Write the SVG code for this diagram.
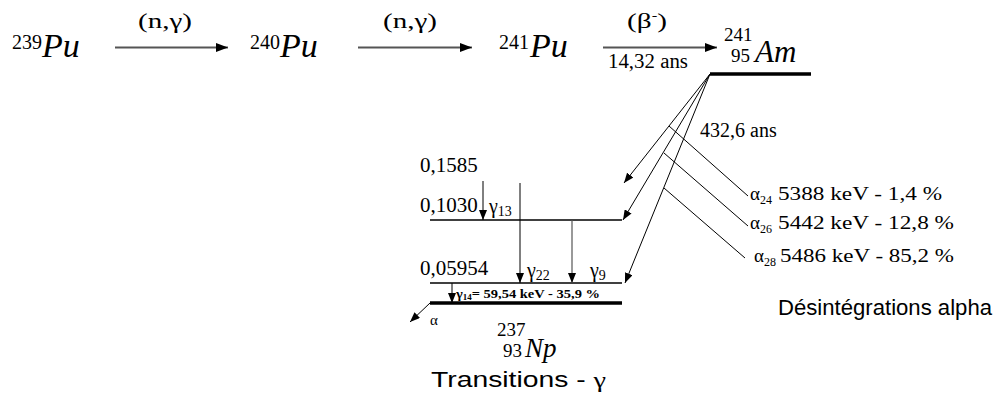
<svg xmlns="http://www.w3.org/2000/svg" width="995" height="396" viewBox="0 0 995 396">
<style>
.s{font-family:"Liberation Serif","Times New Roman",serif;fill:#000}
.i{font-family:"Liberation Serif","Times New Roman",serif;font-style:italic;fill:#000}
.a{font-family:"Liberation Sans",Arial,sans-serif;fill:#000}
.big{stroke:#555;stroke-width:2;fill:none}
.thin{stroke:#000;stroke-width:1;fill:none}
.lvl{stroke:#000;stroke-width:1.3;fill:none}
.gnd{stroke:#000;stroke-width:3.5;fill:none}
</style>
<defs>
<marker id="ah" viewBox="0 0 12 9" refX="12" refY="4.5" markerWidth="12" markerHeight="9" markerUnits="userSpaceOnUse" orient="auto"><path d="M0,0 L12,4.5 L0,9 z" fill="#000"/></marker>
<marker id="as" viewBox="0 0 10 8" refX="10" refY="4" markerWidth="10" markerHeight="8" markerUnits="userSpaceOnUse" orient="auto"><path d="M0,0 L10,4 L0,8 z" fill="#000"/></marker>
</defs>
<rect width="995" height="396" fill="#fff"/>

<g id="pu239"><text class="s" x="12" y="49" font-size="20">239</text><text class="i" x="42" y="57" font-size="34">Pu</text></g>
<g id="pu240"><text class="s" x="250" y="49" font-size="20">240</text><text class="i" x="280" y="57" font-size="34">Pu</text></g>
<g id="pu241"><text class="s" x="499" y="49" font-size="20">241</text><text class="i" x="530" y="57" font-size="34">Pu</text></g>
<g id="am241"><text class="s" x="724" y="41" font-size="19">241</text><text class="s" x="731" y="62" font-size="19">95</text><text class="i" x="755" y="62" font-size="31">Am</text><line class="gnd" x1="710" y1="74" x2="811" y2="74"/></g>

<g id="np237">
<line class="lvl" x1="430" y1="220" x2="622" y2="220"/>
<line class="lvl" x1="430" y1="283" x2="622" y2="283"/>
<line class="gnd" x1="430" y1="303" x2="622" y2="303"/>
<text class="s" x="420" y="172" font-size="21">0,1585</text>
<text class="s" x="420" y="212" font-size="21">0,1030</text>
<text class="s" x="420" y="275" font-size="21">0,05954</text>
<text class="s" x="497" y="336" font-size="19">237</text><text class="s" x="503" y="357" font-size="19">93</text><text class="i" x="525" y="357" font-size="27">Np</text>
</g>

<g id="labels">
<text class="s" x="165" y="28" font-size="21" text-anchor="middle" textLength="54" lengthAdjust="spacingAndGlyphs">(n,γ)</text>
<text class="s" x="410" y="28" font-size="21" text-anchor="middle" textLength="54" lengthAdjust="spacingAndGlyphs">(n,γ)</text>
<text class="s" x="647" y="28" font-size="21" text-anchor="middle" textLength="40" lengthAdjust="spacingAndGlyphs">(β<tspan font-size="12" dy="-8">-</tspan><tspan dy="8">)</tspan></text>
<text class="s" x="608" y="68" font-size="20" textLength="80" lengthAdjust="spacingAndGlyphs">14,32 ans</text>
<text class="s" x="700" y="137" font-size="20">432,6 ans</text>
<text class="s" x="489" y="213" font-size="20">γ<tspan font-size="14" dy="3">13</tspan></text>
<text class="s" x="527" y="277" font-size="20">γ<tspan font-size="14" dy="3">22</tspan></text>
<text class="s" x="590" y="277" font-size="20">γ<tspan font-size="14" dy="3">9</tspan></text>
<text class="s" x="456" y="298" font-size="13" font-weight="bold" textLength="144" lengthAdjust="spacingAndGlyphs">γ<tspan font-size="8" dy="2">14</tspan><tspan dy="-2">= 59,54 keV - 35,9  %</tspan></text>
<text class="s" x="430" y="325" font-size="15">α</text>
<text class="s" x="750" y="200" font-size="19">α<tspan font-size="12" dy="4">24</tspan></text>
<text class="s" x="778" y="200" font-size="19" textLength="164" lengthAdjust="spacingAndGlyphs">5388 keV - 1,4 %</text>
<text class="s" x="750" y="229" font-size="19">α<tspan font-size="12" dy="4">26</tspan></text>
<text class="s" x="778" y="229" font-size="19" textLength="176" lengthAdjust="spacingAndGlyphs">5442 keV - 12,8 %</text>
<text class="s" x="754" y="262" font-size="19">α<tspan font-size="12" dy="4">28</tspan></text>
<text class="s" x="780" y="262" font-size="19" textLength="174" lengthAdjust="spacingAndGlyphs">5486 keV - 85,2 %</text>
<text class="a" x="778" y="315" font-size="22" textLength="214" lengthAdjust="spacingAndGlyphs">Désintégrations alpha</text>
<text class="a" x="431" y="387" font-size="22" textLength="175" lengthAdjust="spacingAndGlyphs">Transitions - <tspan class="s">γ</tspan></text>
</g>

<g id="connectors">
<line class="big" x1="115" y1="47.5" x2="228" y2="47.5" marker-end="url(#ah)"/>
<line class="big" x1="358" y1="47.5" x2="472" y2="47.5" marker-end="url(#ah)"/>
<line class="big" x1="603" y1="47.5" x2="717" y2="47.5" marker-end="url(#ah)"/>
<line class="thin" x1="710" y1="74" x2="624" y2="183" marker-end="url(#as)"/>
<line class="thin" x1="710" y1="74" x2="623" y2="220" marker-end="url(#as)"/>
<line class="thin" x1="710" y1="74" x2="625" y2="283" marker-end="url(#as)"/>
<line class="thin" x1="669" y1="126" x2="748" y2="196"/>
<line class="thin" x1="664" y1="153" x2="748" y2="226"/>
<line class="thin" x1="664" y1="188" x2="745" y2="258"/>
<line class="thin" x1="483" y1="181" x2="483" y2="220" marker-end="url(#as)"/>
<line class="thin" x1="520" y1="183" x2="520" y2="283" marker-end="url(#as)"/>
<line x1="572" y1="220" x2="572" y2="283" stroke="#555" stroke-width="1.2" marker-end="url(#as)"/>
<line class="thin" x1="452" y1="283" x2="452" y2="303" marker-end="url(#as)"/>
<line class="thin" x1="430" y1="303" x2="410" y2="322" marker-end="url(#as)"/>
</g>
</svg>
